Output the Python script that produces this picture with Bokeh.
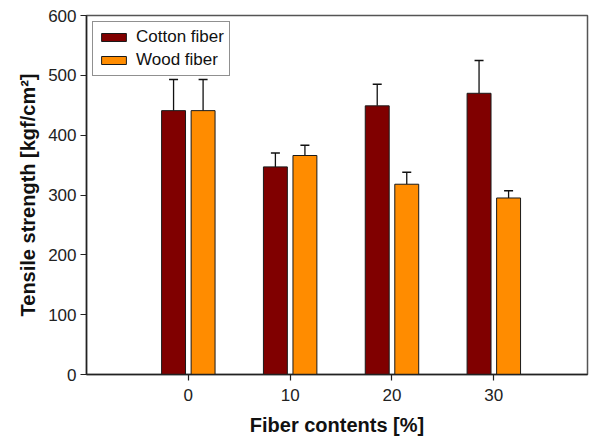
from bokeh.plotting import figure
from bokeh.models import ColumnDataSource, Whisker, TeeHead, Legend, LegendItem, Range1d, FixedTicker
from bokeh.embed import file_html
from bokeh.resources import INLINE

contents = [0, 10, 20, 30]
cotton = [441, 347, 449, 470]
cotton_err = [52, 23, 36, 55]
wood = [441, 366, 318, 295]
wood_err = [52, 17, 20, 12]

FONT = "Arial, Liberation Sans, sans-serif"
offset = 1.45
bw = 2.35

c_src = ColumnDataSource(dict(
    x=[c - offset for c in contents], top=cotton,
    upper=[v + e for v, e in zip(cotton, cotton_err)]))
w_src = ColumnDataSource(dict(
    x=[c + offset for c in contents], top=wood,
    upper=[v + e for v, e in zip(wood, wood_err)]))

p = figure(width=590, height=438, output_backend="svg", toolbar_location=None,
           x_range=Range1d(-10, 39.2), y_range=Range1d(0, 600),
           min_border_left=86, min_border_right=3, min_border_top=15, min_border_bottom=62)
p.grid.visible = False
p.background_fill_color = "white"
p.outline_line_color = "#555555"
p.outline_line_width = 1.5

r1 = p.vbar(x="x", top="top", width=bw, source=c_src, fill_color="#800000", line_color="#1a1a1a", line_width=1)
r2 = p.vbar(x="x", top="top", width=bw, source=w_src, fill_color="#FF8C00", line_color="#1a1a1a", line_width=1)

for src in (c_src, w_src):
    wk = Whisker(base="x", lower="top", upper="upper", source=src, dimension="height",
                 line_color="#111111", line_width=1.3,
                 upper_head=TeeHead(size=9, line_color="#111111", line_width=1.5),
                 lower_head=None)
    p.add_layout(wk)

p.xaxis.ticker = FixedTicker(ticks=contents)
p.yaxis.ticker = FixedTicker(ticks=[0, 100, 200, 300, 400, 500, 600])
for ax in (p.xaxis[0], p.yaxis[0]):
    ax.axis_line_color = "#222222"
    ax.axis_line_width = 1.5
    ax.major_tick_line_color = "#222222"
    ax.major_tick_line_width = 1.2
    ax.major_tick_out = 6
    ax.major_tick_in = 0
    ax.minor_tick_line_color = None
    ax.major_label_text_font = FONT
    ax.major_label_text_font_size = "17px"
    ax.major_label_text_color = "#222222"
    ax.axis_label_text_font = FONT
    ax.axis_label_text_font_size = "20px"
    ax.axis_label_text_font_style = "bold"
    ax.axis_label_text_color = "#111111"

p.xaxis.axis_label = "Fiber contents [%]"
p.yaxis.axis_label = "Tensile strength [kgf/cm²]"
p.xaxis.major_label_standoff = 8
p.xaxis.axis_label_standoff = 10
p.yaxis.major_label_standoff = 4
p.yaxis.axis_label_standoff = 6

legend = Legend(items=[LegendItem(label="Cotton fiber", renderers=[r1]),
                       LegendItem(label="Wood fiber", renderers=[r2])],
                location="top_left")
legend.label_text_font = FONT
legend.label_text_font_size = "17px"
legend.label_text_color = "#111111"
legend.glyph_width = 31
legend.glyph_height = 10
legend.spacing = 3
legend.padding = 5
legend.margin = 6
legend.label_standoff = 7
legend.label_height = 17
legend.label_text_line_height = 1.0
legend.border_line_color = "#222222"
legend.border_line_width = 1
legend.background_fill_alpha = 1
p.add_layout(legend)

open("out.html", "w").write(file_html(p, INLINE))
